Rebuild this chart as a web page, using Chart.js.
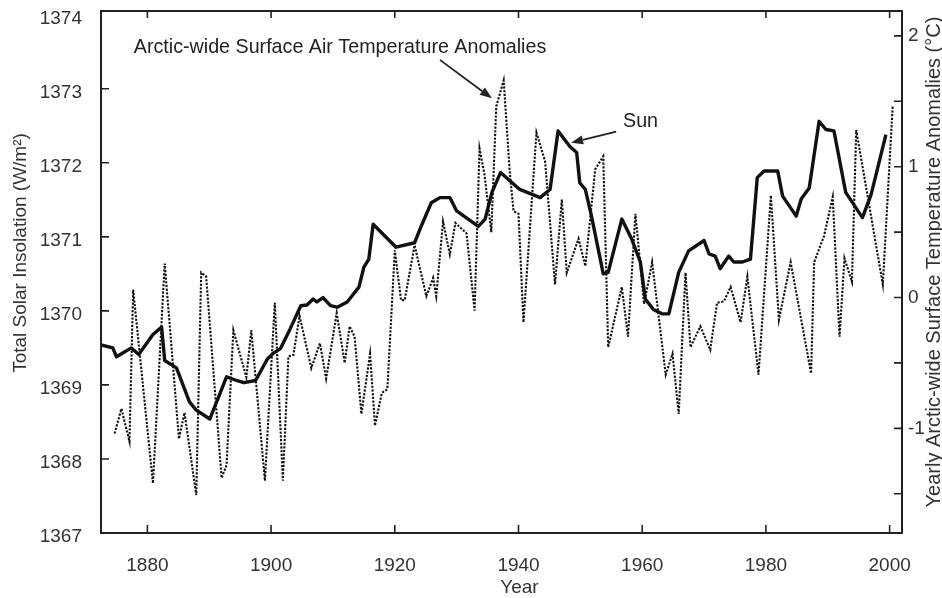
<!DOCTYPE html>
<html><head><meta charset="utf-8">
<script src="https://cdn.jsdelivr.net/npm/chart.js@4.4.1/dist/chart.umd.min.js"></script>
<style>html,body{margin:0;padding:0;background:#fff;overflow:hidden;}</style>
</head><body>
<canvas id="c" width="942" height="598"></canvas>
<script>
// ---- data ----
const sunYears = [1872.5,1874.4,1875.0,1877.4,1878.6,1880.9,1882.3,1882.8,1884.7,1886.8,1887.9,1890.1,1892.8,1894.4,1895.6,1897.5,1899.4,1900.4,1901.5,1903.1,1904.8,1905.8,1906.8,1907.4,1908.4,1909.6,1910.7,1912.3,1914.2,1915.0,1915.8,1916.5,1920.2,1923.2,1924.3,1925.9,1927.3,1928.9,1930.0,1933.5,1934.6,1935.7,1937.1,1940.2,1943.5,1945.1,1946.4,1948.3,1949.4,1949.9,1950.8,1951.8,1953.7,1954.5,1956.7,1958.3,1959.7,1960.5,1961.8,1963.2,1964.3,1965.9,1967.5,1970.0,1970.8,1971.8,1972.6,1974.0,1974.8,1976.2,1977.5,1978.6,1979.7,1981.9,1982.7,1984.9,1985.7,1987.0,1988.6,1989.7,1991.0,1992.9,1995.6,1997.0,1999.4];
const sunValues = [1369.54,1369.50,1369.38,1369.50,1369.41,1369.68,1369.78,1369.33,1369.23,1368.77,1368.66,1368.54,1369.11,1369.06,1369.03,1369.06,1369.35,1369.43,1369.49,1369.76,1370.07,1370.08,1370.16,1370.12,1370.18,1370.07,1370.05,1370.12,1370.32,1370.59,1370.70,1371.17,1370.86,1370.92,1371.15,1371.46,1371.53,1371.53,1371.35,1371.14,1371.24,1371.60,1371.87,1371.64,1371.53,1371.64,1372.43,1372.22,1372.14,1371.73,1371.64,1371.28,1370.50,1370.52,1371.24,1370.97,1370.66,1370.16,1370.02,1369.96,1369.96,1370.52,1370.81,1370.95,1370.77,1370.74,1370.57,1370.74,1370.66,1370.66,1370.70,1371.80,1371.89,1371.89,1371.55,1371.28,1371.51,1371.66,1372.56,1372.45,1372.43,1371.60,1371.26,1371.57,1372.38];

const tempYears = [1874.7,1875.8,1877.1,1877.7,1880.9,1882.8,1885.1,1886.0,1887.9,1888.7,1889.5,1892.0,1892.8,1893.9,1896.0,1896.8,1899.0,1900.6,1901.9,1902.8,1903.6,1904.6,1906.5,1907.9,1908.9,1910.6,1911.9,1912.7,1913.5,1914.6,1916.0,1916.8,1917.9,1918.8,1920.0,1921.0,1921.6,1923.2,1925.1,1926.2,1926.7,1927.8,1928.9,1929.8,1931.6,1932.9,1933.7,1934.5,1935.6,1936.4,1937.6,1938.6,1939.2,1940.0,1940.8,1942.9,1944.3,1945.9,1947.0,1947.8,1949.7,1950.8,1952.4,1953.7,1954.5,1956.7,1957.7,1958.9,1960.3,1961.6,1963.8,1964.9,1965.9,1967.0,1967.8,1969.4,1971.0,1972.1,1973.2,1974.3,1975.9,1977.0,1978.8,1980.8,1982.1,1984.0,1987.3,1987.8,1989.4,1990.8,1991.9,1992.7,1993.9,1994.6,1998.9,2000.5];
const tempValues = [-1.04,-0.85,-1.10,0.06,-1.42,0.26,-1.08,-0.88,-1.51,0.19,0.16,-1.38,-1.28,-0.25,-0.61,-0.25,-1.40,-0.04,-1.40,-0.45,-0.44,-0.14,-0.54,-0.35,-0.62,-0.12,-0.50,-0.22,-0.30,-0.89,-0.43,-0.98,-0.73,-0.70,0.36,-0.02,-0.02,0.40,0.01,0.15,0.01,0.58,0.33,0.57,0.49,-0.10,1.14,0.94,0.50,1.46,1.66,0.95,0.66,0.64,-0.19,1.26,1.04,0.10,0.75,0.19,0.45,0.24,0.98,1.08,-0.38,0.08,-0.30,0.64,-0.05,0.27,-0.59,-0.43,-0.89,0.19,-0.38,-0.22,-0.40,-0.04,-0.03,0.08,-0.19,0.16,-0.59,0.78,-0.17,0.27,-0.58,0.27,0.47,0.77,-0.30,0.30,0.12,1.28,0.10,1.47];

const xTickYears = [1880,1900,1920,1940,1960,1980,2000];
const leftTicks = [1367,1368,1369,1370,1371,1372,1373,1374];
const rightTicks = [-1.5,-1,-0.5,0,0.5,1,1.5,2];

const FONT = "'Liberation Sans', Arial, sans-serif";
const TXT = '#333';

function arrow(ctx, x1, y1, x2, y2) {
  const ang = Math.atan2(y2 - y1, x2 - x1);
  const L = 12, W = 4.5;
  const bx = x2 - L * Math.cos(ang), by = y2 - L * Math.sin(ang);
  ctx.beginPath(); ctx.moveTo(x1, y1); ctx.lineTo(bx, by); ctx.stroke();
  ctx.beginPath();
  ctx.moveTo(x2, y2);
  ctx.lineTo(bx + W * Math.sin(ang), by - W * Math.cos(ang));
  ctx.lineTo(bx - W * Math.sin(ang), by + W * Math.cos(ang));
  ctx.closePath(); ctx.fill();
}

const decor = {
  id: 'decor',
  afterDatasetsDraw(chart) {
    const { ctx, chartArea: a, scales } = chart;
    const x = scales.x, y = scales.y, y2 = scales.y2;
    ctx.save();
    // frame
    ctx.strokeStyle = '#222'; ctx.lineWidth = 2;
    ctx.strokeRect(a.left, a.top, a.right - a.left, a.bottom - a.top);
    // inward ticks
    ctx.lineWidth = 1.6; ctx.beginPath();
    xTickYears.forEach(v => { const p = x.getPixelForValue(v);
      ctx.moveTo(p, a.bottom); ctx.lineTo(p, a.bottom - 8);
      ctx.moveTo(p, a.top); ctx.lineTo(p, a.top + 7); });
    leftTicks.forEach(v => { if (v <= y.min || v >= y.max - 0.1) return; const p = y.getPixelForValue(v);
      ctx.moveTo(a.left, p); ctx.lineTo(a.left + 8, p); });
    rightTicks.forEach(v => { const p = y2.getPixelForValue(v);
      ctx.moveTo(a.right, p); ctx.lineTo(a.right - 8, p); });
    ctx.stroke();

    // annotations
    ctx.fillStyle = '#222'; ctx.strokeStyle = '#222';
    ctx.font = '19.7px ' + FONT; ctx.textBaseline = 'alphabetic'; ctx.textAlign = 'left';
    ctx.fillText('Arctic-wide Surface Air Temperature Anomalies', x.getPixelForValue(1877.8), y.getPixelForValue(1373.48));
    ctx.fillText('Sun', x.getPixelForValue(1956.9), y.getPixelForValue(1372.49));
    ctx.lineWidth = 1.8;
    arrow(ctx, x.getPixelForValue(1927.3), y.getPixelForValue(1373.39), x.getPixelForValue(1935.7), y.getPixelForValue(1372.87));
    arrow(ctx, x.getPixelForValue(1955.8), y.getPixelForValue(1372.42), x.getPixelForValue(1948.5), y.getPixelForValue(1372.27));

    // axis titles
    ctx.fillStyle = TXT; ctx.textAlign = 'center'; ctx.textBaseline = 'middle';
    ctx.font = '19px ' + FONT;
    ctx.save(); ctx.translate(21, 253); ctx.rotate(-Math.PI / 2);
    ctx.fillText('Total Solar Insolation (W/m\u00B2)', 0, 0); ctx.restore();
    ctx.fillText('Year', (a.left + a.right) / 2 + 18, 588);
    ctx.font = '20px ' + FONT;
    ctx.save(); ctx.translate(934, 262); ctx.rotate(-Math.PI / 2);
    ctx.fillText('Yearly Arctic-wide Surface Temperature Anomalies (\u00B0C)', 0, 0); ctx.restore();
    ctx.restore();
  }
};

const tickFont = { family: FONT, size: 19 };
const plain = v => String(v);

new Chart(document.getElementById('c'), {
  type: 'line',
  data: {
    datasets: [
      { label: 'Sun', data: sunYears.map((v, i) => ({ x: v, y: sunValues[i] })), yAxisID: 'y',
        borderColor: '#111', borderWidth: 3.4, pointRadius: 0, tension: 0, order: 0, borderJoinStyle: 'round' },
      { label: 'Arctic-wide Surface Air Temperature Anomalies', data: tempYears.map((v, i) => ({ x: v, y: tempValues[i] })), yAxisID: 'y2',
        borderColor: '#111', borderWidth: 2.1, borderDash: [2.2, 1.5], pointRadius: 0, tension: 0, order: 1 }
    ]
  },
  options: {
    responsive: false, animation: false, devicePixelRatio: 1,
    layout: { padding: { top: 11, left: 0, right: 0, bottom: 0 } },
    plugins: { legend: { display: false }, tooltip: { enabled: false } },
    scales: {
      x: { type: 'linear', position: 'bottom', min: 1872.5, max: 2002,
        grid: { display: false, drawTicks: false }, border: { display: false },
        ticks: { font: tickFont, color: TXT, padding: 21, maxRotation: 0, autoSkip: false, callback: plain },
        afterBuildTicks: s => { s.ticks = xTickYears.map(v => ({ value: v })); },
        afterFit: s => { s.height = 65; s.paddingLeft = 0; s.paddingRight = 0; } },
      y: { type: 'linear', position: 'left', min: 1367, max: 1374.05,
        grid: { display: false, drawTicks: false }, border: { display: false },
        ticks: { font: tickFont, color: TXT, padding: 19, labelOffset: 4, callback: plain },
        afterBuildTicks: s => { s.ticks = leftTicks.map(v => ({ value: v })); },
        afterFit: s => { s.width = 101; s.paddingTop = 0; s.paddingBottom = 0; } },
      y2: { type: 'linear', position: 'right', min: -1.8, max: 2.19,
        grid: { display: false, drawTicks: false }, border: { display: false },
        ticks: { font: tickFont, color: TXT, padding: 6, callback: v => Number.isInteger(v) ? String(v) : '' },
        afterBuildTicks: s => { s.ticks = rightTicks.map(v => ({ value: v })); },
        afterFit: s => { s.width = 40; s.paddingTop = 0; s.paddingBottom = 0; } }
    }
  },
  plugins: [decor]
});
</script>
</body></html>
